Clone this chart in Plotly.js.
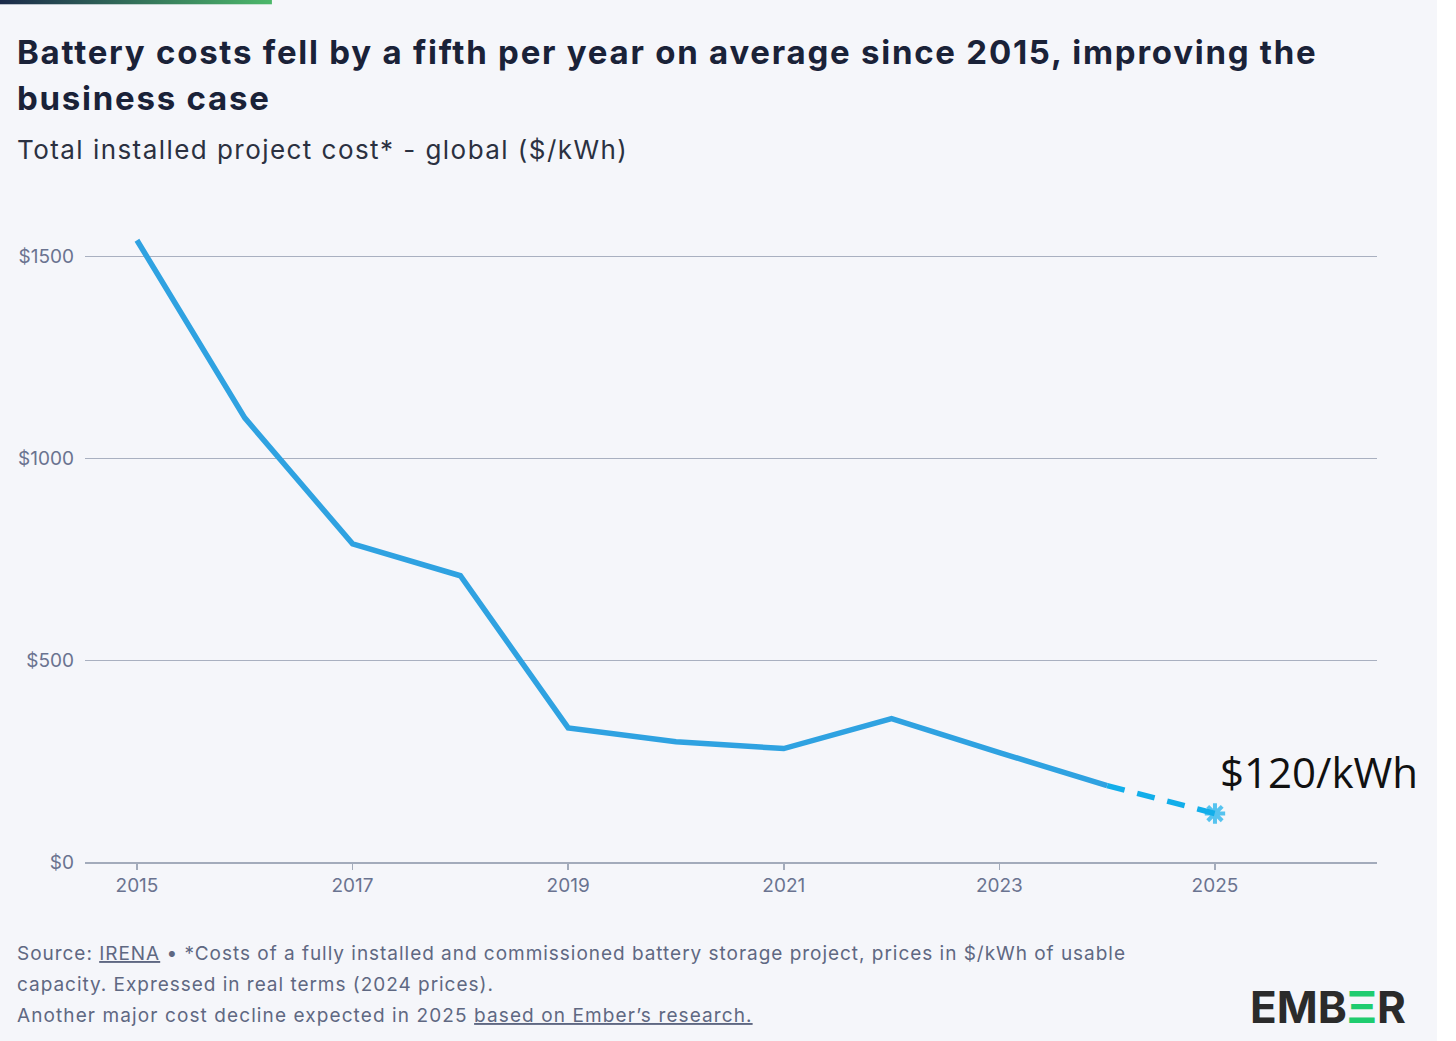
<!DOCTYPE html>
<html>
<head>
<meta charset="utf-8">
<script src="https://cdn.plot.ly/plotly-3.0.1.min.js"></script>
<style>
  html, body { margin: 0; padding: 0; background: #ffffff; }
  #myDiv { width: 1437px; height: 1041px; }
</style>
</head>
<body>
<div id="myDiv"></div>
<script>
// values
var years = [2015, 2016, 2017, 2018, 2019, 2020, 2021, 2022, 2023, 2024];
var costs = [1540, 1100, 788, 709, 332, 298, 281, 355, 271, 189];
var forecastYears = [2024, 2025];
var forecastCosts = [189, 120];
var yTickVals = [0, 500, 1000, 1500];
var yTickText = ['$0', '$500', '$1000', '$1500'];

var FONT = 'Inter, "Noto Sans", sans-serif';
var BG = '#f5f6fa';

var costTrace = {
  x: years,
  y: costs,
  type: 'scatter',
  mode: 'lines',
  line: {color: '#2fa2e1', width: 5.5},
  hoverinfo: 'skip'
};

var forecastTrace = {
  x: forecastYears,
  y: forecastCosts,
  type: 'scatter',
  mode: 'lines+markers',
  line: {color: '#12aeea', width: 5.5, dash: '18px,13px'},
  marker: {
    size: [0, 17],
    symbol: 'asterisk-open',
    color: '#12aeea',
    line: {color: '#12aeea', width: 4}
  },
  hoverinfo: 'skip'
};

var data = [costTrace, forecastTrace];

// gradient strip in the top left corner
var stripSvg = '<svg xmlns="http://www.w3.org/2000/svg" width="272" height="5">' +
  '<defs><linearGradient id="g" x1="0" x2="1" y1="0" y2="0">' +
  '<stop offset="0" stop-color="#1b2a4a"/><stop offset="1" stop-color="#4cb86a"/>' +
  '</linearGradient></defs><rect width="272" height="5" fill="url(#g)"/></svg>';

var footerColor = '#5f6882';
var u = function (t) { return '<span style="text-decoration:underline">' + t + '</span>'; };
var spaced = function (t, px) { return '<span style="letter-spacing:' + px + 'px">' + t + '</span>'; };
var LEFT = -0.0541;

var layout = {
  width: 1437,
  height: 1041,
  margin: {l: 85, r: 60, t: 216, b: 179},
  paper_bgcolor: BG,
  plot_bgcolor: BG,
  showlegend: false,
  font: {family: FONT, color: '#6a7390'},
  xaxis: {
    range: [2014.518, 2026.503],
    tick0: 2015,
    dtick: 2,
    showgrid: false,
    zeroline: false,
    showline: true,
    linecolor: '#a3abbb',
    linewidth: 1.5,
    ticks: 'outside',
    ticklen: 6,
    tickwidth: 1.5,
    tickcolor: '#a3abbb',
    tickfont: {size: 19, color: '#6a7390'},
    fixedrange: true
  },
  yaxis: {
    range: [0, 1600],
    tickvals: yTickVals,
    ticktext: yTickText,
    showgrid: true,
    gridcolor: '#a9b0c0',
    gridwidth: 1,
    zeroline: false,
    showline: false,
    ticks: '',
    ticklabelstandoff: 10,
    tickfont: {size: 19, color: '#6a7390'},
    fixedrange: true
  },
  images: [{
    source: 'data:image/svg+xml;charset=utf-8,' + encodeURIComponent(stripSvg),
    xref: 'paper', yref: 'paper',
    x: -0.0658, y: 1.3351,
    sizex: 0.2105, sizey: 0.0078,
    xanchor: 'left', yanchor: 'top',
    sizing: 'stretch',
    layer: 'above'
  }],
  annotations: [
    {
      text: '<b>' + spaced('Battery costs fell by a fifth per year on average since 2015, improving the', 1.75) + '</b>',
      xref: 'paper', yref: 'paper', x: LEFT, y: 1.2531,
      xanchor: 'left', yanchor: 'middle', showarrow: false,
      font: {family: FONT, size: 33, color: '#1a2238'}
    },
    {
      text: '<b>' + spaced('business case', 1.75) + '</b>',
      xref: 'paper', yref: 'paper', x: LEFT, y: 1.1819,
      xanchor: 'left', yanchor: 'middle', showarrow: false,
      font: {family: FONT, size: 33, color: '#1a2238'}
    },
    {
      text: spaced('Total installed project cost* - global ($/kWh)', 1.45),
      xref: 'paper', yref: 'paper', x: LEFT, y: 1.1022,
      xanchor: 'left', yanchor: 'middle', showarrow: false,
      font: {family: FONT, size: 26, color: '#2b3141'}
    },
    {
      text: '$120/kWh',
      xref: 'paper', yref: 'paper', x: 0.877, y: 0.140,
      xanchor: 'left', yanchor: 'middle', showarrow: false,
      font: {family: '"Open Sans", sans-serif', size: 42, color: '#111111'}
    },
    {
      text: spaced('Source: ' + u('IRENA') + ' \u2022 *Costs of a fully installed and commissioned battery storage project, prices in $/kWh of usable', 0.97),
      xref: 'paper', yref: 'paper', x: LEFT, y: -0.1416,
      xanchor: 'left', yanchor: 'middle', showarrow: false,
      font: {family: FONT, size: 19, color: footerColor}
    },
    {
      text: spaced('capacity. Expressed in real terms (2024 prices).', 0.97),
      xref: 'paper', yref: 'paper', x: LEFT, y: -0.1896,
      xanchor: 'left', yanchor: 'middle', showarrow: false,
      font: {family: FONT, size: 19, color: footerColor}
    },
    {
      text: spaced('Another major cost decline expected in 2025 ' + u('based on Ember\u2019s research.'), 1.1),
      xref: 'paper', yref: 'paper', x: LEFT, y: -0.2376,
      xanchor: 'left', yanchor: 'middle', showarrow: false,
      font: {family: FONT, size: 19, color: footerColor}
    },
    {
      text: '<b>EMB<span style="color:#1fcc6f">\u039E</span>R</b>',
      xref: 'paper', yref: 'paper', x: 0.962, y: -0.2251,
      xanchor: 'center', yanchor: 'middle', showarrow: false,
      font: {family: FONT, size: 44, color: '#2b2b2b'}
    }
  ]
};

Plotly.newPlot('myDiv', data, layout, {displayModeBar: false, staticPlot: true});
</script>
</body>
</html>
